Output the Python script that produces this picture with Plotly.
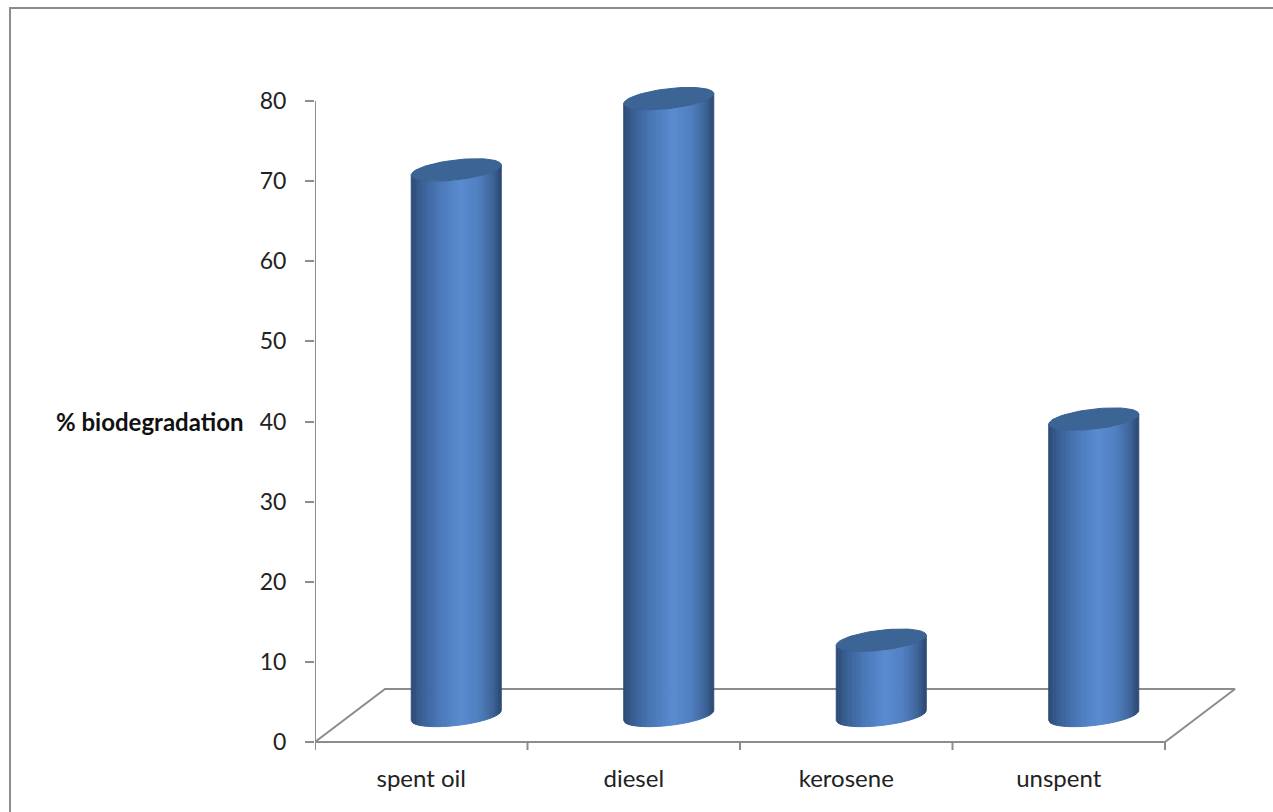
import numpy as np
import plotly.graph_objects as go

# ---- data ----
categories = ["spent oil", "diesel", "kerosene", "unspent"]
values = [68.1, 77.0, 9.4, 37.0]
y_ticks = [0, 10, 20, 30, 40, 50, 60, 70, 80]
y_title = "% biodegradation"

# ---- geometry / style (in axis units) ----
PX_X = 212.5          # px per category
PX_Y = 8.0125         # px per value unit
depth_dx = 70 / PX_X  # floor depth offset in x units
depth_dy = 53 / PX_Y  # floor depth offset in y units
rad_a = 45 / PX_X     # cylinder horizontal radius
rad_b = 10 / PX_Y     # ellipse vertical semi-axis
shear = 5 / PX_Y      # perspective tilt of ellipses
n_strips = 36
grey = "#8c8c8c"
font = "Lato"

stops = [(0.0, (44, 74, 118)), (0.12, (58, 96, 148)), (0.32, (74, 120, 184)),
         (0.55, (90, 139, 208)), (0.75, (80, 127, 192)), (0.9, (63, 103, 156)),
         (1.0, (44, 72, 114))]


def grad(p):
    for (p0, c0), (p1, c1) in zip(stops[:-1], stops[1:]):
        if p <= p1:
            f = (p - p0) / (p1 - p0) if p1 > p0 else 0
            c = [round(c0[i] + (c1[i] - c0[i]) * f) for i in range(3)]
            return "rgb(%d,%d,%d)" % tuple(c)
    return "rgb(%d,%d,%d)" % stops[-1][1]


fig = go.Figure()

x_lo, x_hi = -0.5, len(categories) - 0.5

# floor (3D base plane) and axes lines
floor_x = [x_lo, x_lo + depth_dx, x_hi + depth_dx, x_hi, x_lo]
floor_y = [0, depth_dy, depth_dy, 0, 0]
fig.add_trace(go.Scatter(x=floor_x, y=floor_y, mode="lines",
                         line=dict(color=grey, width=2), hoverinfo="skip"))
# y axis line
fig.add_trace(go.Scatter(x=[x_lo, x_lo], y=[0, y_ticks[-1]], mode="lines",
                         line=dict(color=grey, width=2), hoverinfo="skip"))
# x tick marks (category boundaries)
tx, ty = [], []
for k in range(len(categories) + 1):
    xb = x_lo + k
    tx += [xb, xb, None]
    ty += [0, -1.0, None]
fig.add_trace(go.Scatter(x=tx, y=ty, mode="lines",
                         line=dict(color=grey, width=2), hoverinfo="skip"))

# cylinders: body strips with gradient
edges = np.linspace(-1, 1, n_strips + 1)
for j in range(n_strips):
    u = np.linspace(edges[j], edges[j + 1], 6)
    xs, ys = [], []
    for i, v in enumerate(values):
        cx = i + depth_dx / 2
        base = depth_dy / 2
        top = base + v
        fr = -np.sqrt(np.clip(1 - u ** 2, 0, 1))
        bx = cx + rad_a * u
        by = base + rad_b * fr + shear * u
        ux = bx[::-1]
        uy = (top + rad_b * fr + shear * u)[::-1]
        xs += list(bx) + list(ux) + [bx[0], None]
        ys += list(by) + list(uy) + [by[0], None]
    col = grad((j + 0.5) / n_strips)
    fig.add_trace(go.Scatter(x=xs, y=ys, mode="lines", fill="toself",
                             fillcolor=col, line=dict(color=col, width=1),
                             hoverinfo="skip"))

# cylinder tops
t = np.linspace(0, 2 * np.pi, 80)
xs, ys = [], []
for i, v in enumerate(values):
    cx = i + depth_dx / 2
    top = depth_dy / 2 + v
    xs += list(cx + rad_a * np.cos(t)) + [None]
    ys += list(top + rad_b * np.sin(t) + shear * np.cos(t)) + [None]
fig.add_trace(go.Scatter(x=xs, y=ys, mode="lines", fill="toself",
                         fillcolor="#3c6495", line=dict(color="#3a6192", width=1),
                         hoverinfo="skip"))

fig.update_layout(
    width=1273, height=812,
    margin=dict(l=315, r=23, t=69, b=50),
    paper_bgcolor="white", plot_bgcolor="white",
    showlegend=False,
    font=dict(family=font, size=23, color="#222222"),
    xaxis=dict(range=[x_lo, 3.9], showgrid=False, zeroline=False, showline=False,
               tickmode="array", tickvals=list(range(len(categories))),
               ticktext=categories, ticks="", tickfont=dict(size=24)),
    yaxis=dict(range=[-2.5, 84], showgrid=False, zeroline=False, showline=False,
               tickmode="array", tickvals=y_ticks, ticks="outside", ticklen=9,
               tickwidth=2, tickcolor=grey, ticklabelstandoff=14,
               tickfont=dict(size=23)),
    shapes=[dict(type="rect", xref="paper", yref="paper",
                 x0=(10 - 315) / 935, x1=1.2, y0=-0.2, y1=(762 - 8) / 693,
                 line=dict(color=grey, width=2), fillcolor="rgba(0,0,0,0)",
                 layer="below")],
    annotations=[dict(text="<b>" + y_title + "</b>", xref="paper", yref="y",
                      x=(246 - 315) / 935, y=40, xanchor="right", yanchor="middle",
                      showarrow=False, font=dict(family=font, size=24, color="#111111"))],
)

fig.write_html("out.html")
